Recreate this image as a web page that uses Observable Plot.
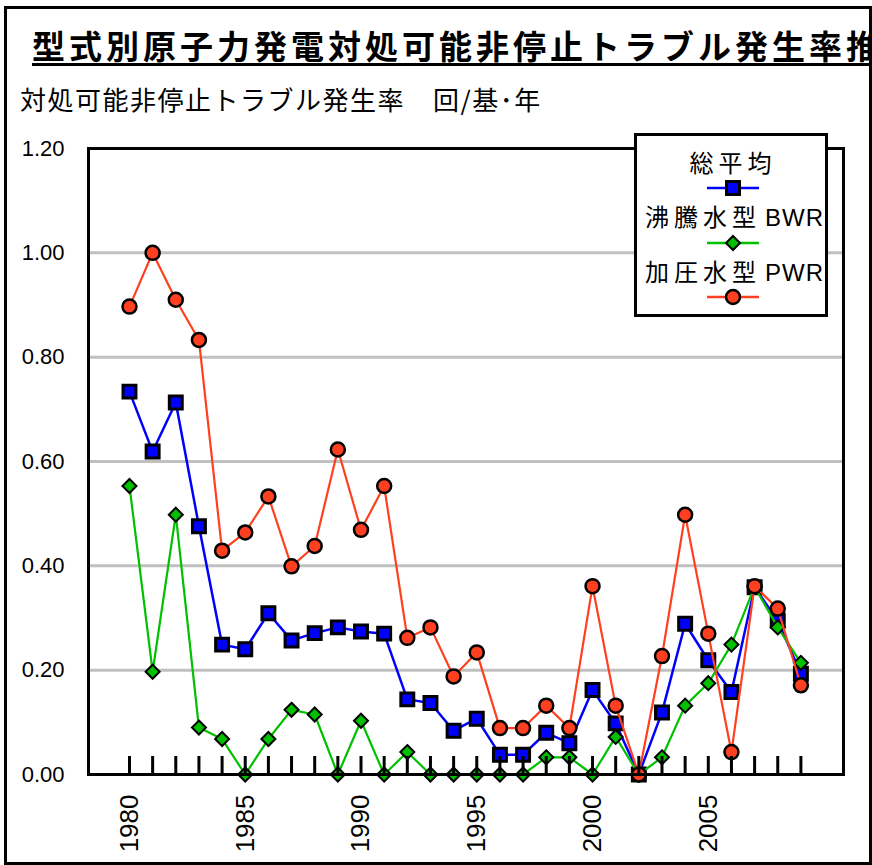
<!DOCTYPE html>
<html>
<head>
<meta charset="utf-8">
<script src="https://cdn.jsdelivr.net/npm/d3@7"></script>
<script src="https://cdn.jsdelivr.net/npm/@observablehq/plot@0.6"></script>
<style>
  body { margin: 0; background: #fff; }
  #wrap { position: relative; width: 872px; height: 865px; overflow: hidden; background: #fff;
          font-family: "Liberation Sans", Arial, "Noto Sans CJK JP", sans-serif; color: #000; }
  #border { position: absolute; left: 4px; top: 6px; width: 868px; height: 859px; border: 3px solid #000; box-sizing: border-box; }
  #title { position: absolute; left: 32px; top: 29px; font-size: 33px; line-height: 33px; font-weight: bold;
           letter-spacing: 4px; white-space: nowrap; text-decoration: underline; text-decoration-thickness: 3px;
           text-underline-offset: 4px; font-family: "Noto Sans CJK JP", sans-serif; }
  #subtitle { position: absolute; left: 20px; top: 86px; font-size: 26px; line-height: 26px; letter-spacing: 1.5px;
              white-space: nowrap; font-family: "Noto Sans CJK JP", sans-serif; }
  #chart { position: absolute; left: 0; top: 0; }
  #legend { position: absolute; left: 634px; top: 133px; width: 194px; height: 184px; border: 3px solid #000;
            box-sizing: border-box; background: #fff; overflow: hidden; }
  .lt { position: absolute; font-size: 24px; line-height: 28px; letter-spacing: 5px; white-space: nowrap;
        font-family: "Noto Sans CJK JP", sans-serif; }
  .lat { font-family: "Liberation Sans", Arial, sans-serif; letter-spacing: 1px; margin-left: 4px; }
  .sw { position: absolute; left: 70px; width: 52px; height: 20px; overflow: visible; }
</style>
</head>
<body>
<div id="wrap">
  <div id="chart"></div>
  <div id="title">型式別原子力発電対処可能非停止トラブル発生率推移</div>
  <div id="subtitle">対処可能非停止トラブル発生率<span style="margin-left:28px">回/基･年</span></div>
  <div id="legend"></div>
  <div id="border"></div>
</div>
<script>
// ---- data ----
const years = [1980, 1981, 1982, 1983, 1984, 1985, 1986, 1987, 1988, 1989,
               1990, 1991, 1992, 1993, 1994, 1995, 1996, 1997, 1998, 1999,
               2000, 2001, 2002, 2003, 2004, 2005, 2006, 2007, 2008, 2009];
const total = [0.734, 0.619, 0.713, 0.476, 0.249, 0.240, 0.309, 0.257, 0.271, 0.282,
               0.274, 0.270, 0.144, 0.137, 0.084, 0.107, 0.038, 0.038, 0.080, 0.060,
               0.162, 0.098, 0.000, 0.119, 0.289, 0.219, 0.158, 0.359, 0.295, 0.193];
const bwr   = [0.553, 0.197, 0.498, 0.090, 0.068, 0.000, 0.068, 0.124, 0.115, 0.000,
               0.103, 0.000, 0.043, 0.000, 0.000, 0.000, 0.000, 0.000, 0.033, 0.033,
               0.000, 0.072, 0.000, 0.033, 0.132, 0.175, 0.249, 0.360, 0.282, 0.214];
const pwr   = [0.897, 1.000, 0.910, 0.833, 0.429, 0.464, 0.533, 0.399, 0.438, 0.623,
               0.469, 0.553, 0.262, 0.282, 0.188, 0.234, 0.089, 0.089, 0.132, 0.089,
               0.361, 0.132, 0.000, 0.227, 0.498, 0.270, 0.043, 0.361, 0.318, 0.171];
const labelYears = [1980, 1985, 1990, 1995, 2000, 2005];
const yTicks = [0, 0.2, 0.4, 0.6, 0.8, 1.0, 1.2];
const gridValues = [0.2, 0.4, 0.6, 0.8, 1.0];
const seriesNames = [["総平均", ""], ["沸騰水型", "BWR"], ["加圧水型", "PWR"]];

// ---- styles ----
const BLUE = "#0000ff", GREEN = "#00c000", RED = "#ff4020";

const rows = years.map((yr, i) => ({year: yr, total: total[i], bwr: bwr[i], pwr: pwr[i]}));

const chart = Plot.plot({
  width: 872,
  height: 865,
  marginLeft: 88,
  marginRight: 29,
  marginTop: 148,
  marginBottom: 91,
  x: {type: "linear", domain: [1978.23, 2010.84]},
  y: {domain: [0, 1.2]},
  style: {fontFamily: '"Liberation Sans", Arial, sans-serif', background: "transparent", color: "black"},
  marks: [
    Plot.ruleY(gridValues, {stroke: "#c0c0c0", strokeWidth: 3}),
    Plot.axisY({ticks: yTicks, tickSize: 0, tickPadding: 24, fontSize: 22, tickFormat: d => d.toFixed(2), label: null}),
    Plot.axisX({ticks: labelYears, tickSize: 0, tickRotate: -90, textAnchor: "end", tickPadding: 20, fontSize: 26,
                tickFormat: d => String(d), label: null}),
    Plot.line(rows, {x: "year", y: "total", stroke: BLUE, strokeWidth: 2.5}),
    Plot.dot(rows, {x: "year", y: "total", symbol: "square", r: 7.3, fill: BLUE, stroke: "black", strokeWidth: 3}),
    Plot.line(rows, {x: "year", y: "bwr", stroke: GREEN, strokeWidth: 2.2}),
    Plot.dot(rows, {x: "year", y: "bwr", symbol: "diamond2", r: 6.3, fill: GREEN, stroke: "black", strokeWidth: 2}),
    Plot.line(rows, {x: "year", y: "pwr", stroke: RED, strokeWidth: 2.2}),
    Plot.dot(rows, {x: "year", y: "pwr", r: 7, fill: RED, stroke: "black", strokeWidth: 2.5}),
    Plot.axisX({ticks: years, tickSize: -18, strokeWidth: 3, tickFormat: () => "", label: null}),
    Plot.frame({stroke: "black", strokeWidth: 3})
  ]
});
document.getElementById("chart").appendChild(chart);

// ---- legend ----
const legend = document.getElementById("legend");
const legendItems = [
  {name: seriesNames[0], color: BLUE, sym: d3.symbolSquare, r: 7.3, sw: 3, textTop: 12, textLeft: null, swTop: 42},
  {name: seriesNames[1], color: GREEN, sym: d3.symbolDiamond2, r: 6.3, sw: 2, textTop: 66, textLeft: 8, swTop: 97},
  {name: seriesNames[2], color: RED, sym: d3.symbolCircle, r: 7, sw: 2.5, textTop: 121, textLeft: 8, swTop: 151}
];
legendItems.forEach(it => {
  const t = document.createElement("div");
  t.className = "lt";
  t.appendChild(document.createTextNode(it.name[0]));
  if (it.name[1]) {
    const s = document.createElement("span");
    s.className = "lat";
    s.textContent = it.name[1];
    t.appendChild(s);
  }
  t.style.top = it.textTop + "px";
  if (it.textLeft == null) { t.style.left = "0"; t.style.width = "100%"; t.style.textAlign = "center"; t.style.paddingLeft = "4px"; t.style.boxSizing = "border-box"; }
  else t.style.left = it.textLeft + "px";
  legend.appendChild(t);
  const path = d3.symbol(it.sym, Math.PI * it.r * it.r)();
  const svg = d3.create("svg").attr("class", "sw").attr("width", 52).attr("height", 20).style("top", it.swTop + "px");
  svg.append("line").attr("x1", 0).attr("x2", 52).attr("y1", 10).attr("y2", 10).attr("stroke", it.color).attr("stroke-width", 2.5);
  svg.append("path").attr("d", path).attr("transform", "translate(26,10)").attr("fill", it.color).attr("stroke", "black").attr("stroke-width", it.sw);
  legend.appendChild(svg.node());
});
</script>
</body>
</html>
